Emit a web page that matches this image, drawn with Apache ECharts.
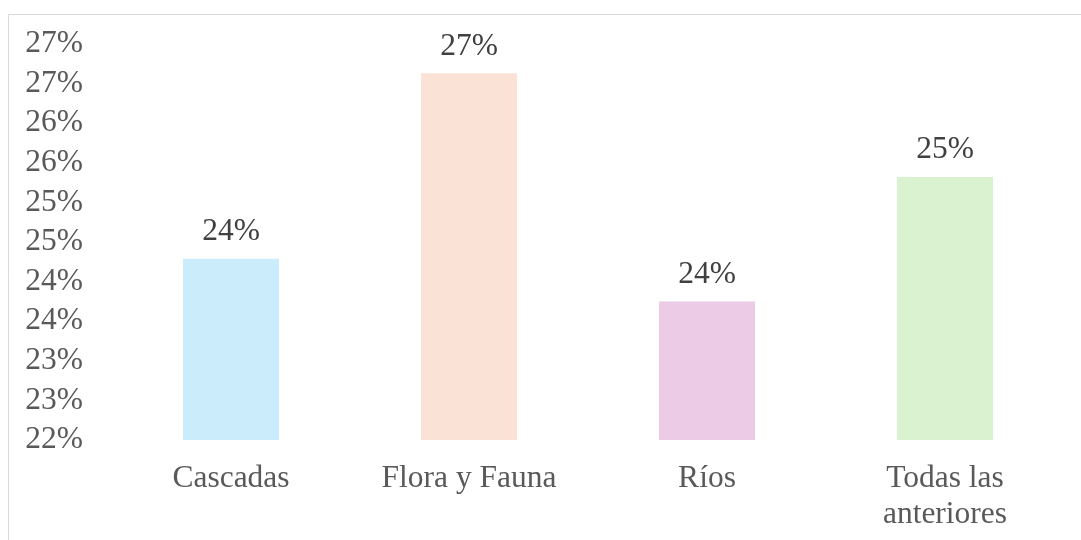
<!DOCTYPE html>
<html>
<head>
<meta charset="utf-8">
<title>chart</title>
<script src="https://cdn.jsdelivr.net/npm/echarts@6/dist/echarts.min.js"></script>
<style>
  html, body { margin: 0; padding: 0; background: #fff; }
  #chart { width: 1081px; height: 540px; }
</style>
</head>
<body>
<div id="chart"></div>
<script>
// datos
const categories = ['Cascadas', 'Flora y Fauna', 'Ríos', 'Todas las\nanteriores']
const values = [24.29, 26.63, 23.75, 25.32]
const barColors = ['#CBEDFB', '#FBE2D6', '#EBCBE6', '#DAF2D0']
const yTickLabels = ['22%', '23%', '23%', '24%', '24%', '25%', '25%', '26%', '26%', '27%', '27%']

const fontFamily = '"Liberation Serif", "Times New Roman", serif'
const fontSize = 31.5

const chart = echarts.init(document.getElementById('chart'), null, { renderer: 'canvas' })

chart.setOption({
  animation: false,
  backgroundColor: '#fff',
  graphic: [{
    type: 'rect',
    shape: { x: 8.5, y: 14.5, width: 1200, height: 600 },
    style: { fill: 'none', stroke: '#d9d9d9', lineWidth: 1 },
    silent: true
  }],
  grid: {
    left: 112,
    right: 17,
    top: 44,
    bottom: 100,
    containLabel: false
  },
  xAxis: {
    type: 'category',
    data: categories,
    axisLine: { show: false },
    axisTick: { show: false },
    splitLine: { show: false },
    axisLabel: {
      color: '#595959',
      fontFamily: fontFamily,
      fontSize: fontSize,
      lineHeight: 36,
      margin: 21,
      interval: 0
    }
  },
  yAxis: {
    type: 'value',
    min: 22,
    max: 27,
    interval: 0.5,
    axisLine: { show: false },
    axisTick: { show: false },
    splitLine: { show: false },
    axisLabel: {
      color: '#595959',
      fontFamily: fontFamily,
      fontSize: fontSize,
      margin: 29,
      formatter: function(value, index) {
        return yTickLabels[index]
      }
    }
  },
  series: [{
    type: 'bar',
    data: values.map(function(v, i) {
      return { value: v, itemStyle: { color: barColors[i] } }
    }),
    barWidth: 96,
    label: {
      show: true,
      position: 'top',
      distance: 11,
      color: '#404040',
      fontFamily: fontFamily,
      fontSize: fontSize,
      formatter: function(p) {
        return Math.round(p.value) + '%'
      }
    }
  }]
})
</script>
</body>
</html>
